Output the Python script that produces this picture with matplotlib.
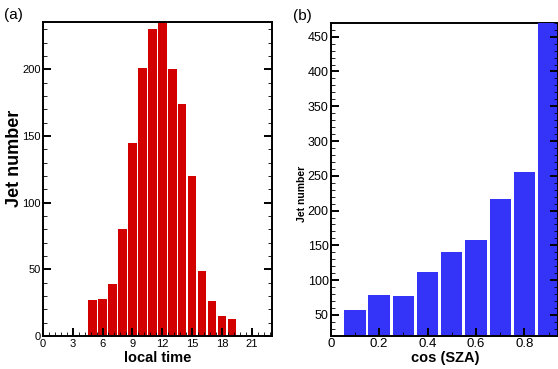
import matplotlib
matplotlib.use("Agg")
import matplotlib.pyplot as plt
from matplotlib.ticker import MultipleLocator

plt.rcParams["font.family"] = ["Liberation Sans", "DejaVu Sans"]

# panel (a): jets per local time hour
local_hours = [5, 6, 7, 8, 9, 10, 11, 12, 13, 14, 15, 16, 17, 18, 19]
jets_by_hour = [27, 28, 39, 80, 145, 201, 230, 237, 200, 174, 120, 49, 26, 15, 13]

# panel (b): jets per cos(SZA) bin
cos_sza = [0.1, 0.2, 0.3, 0.4, 0.5, 0.6, 0.7, 0.8, 0.9]
jets_by_sza = [57, 79, 77, 111, 140, 158, 217, 255, 480]

RED = "#D30000"
BLUE = "#3434F8"

fig = plt.figure(figsize=(5.58, 3.69), dpi=100)
ax_a = fig.add_axes([0.0765, 0.0894, 0.411, 0.851])
ax_b = fig.add_axes([0.5927, 0.0902, 0.4073, 0.848])


def style_axes(ax, label_size_x, label_size_y):
    for sp in ax.spines.values():
        sp.set_linewidth(1.4)
    ax.tick_params(which="both", direction="in", top=False, right=True)
    ax.tick_params(which="major", length=6, width=1.4)
    ax.tick_params(which="minor", length=3, width=0.6)
    ax.tick_params(axis="x", labelsize=label_size_x, pad=2)
    ax.tick_params(axis="y", labelsize=label_size_y, pad=1.5)


# (a)
ax_a.bar(local_hours, jets_by_hour, width=0.84, color=RED)
ax_a.set_xlim(0, 23)
ax_a.set_ylim(0, 235.5)
ax_a.xaxis.set_major_locator(MultipleLocator(3))
ax_a.xaxis.set_minor_locator(MultipleLocator(0.6))
ax_a.yaxis.set_major_locator(MultipleLocator(50))
ax_a.yaxis.set_minor_locator(MultipleLocator(10))
style_axes(ax_a, 8, 8)
ax_a.set_xlabel("local time", fontsize=10.5, fontweight="bold")
ax_a.xaxis.set_label_coords(0.503, -0.070)
ax_a.xaxis.label.set_va("center")
ax_a.set_ylabel("Jet number", fontsize=13, fontweight="bold")
ax_a.yaxis.set_label_coords(-0.123, 0.567)
ax_a.yaxis.label.set_va("center")

# (b)
ax_b.bar(cos_sza, jets_by_sza, width=0.088, color=BLUE)
ax_b.set_xlim(0, 0.939)
ax_b.set_ylim(20, 470)
ax_b.xaxis.set_major_locator(MultipleLocator(0.2))
ax_b.xaxis.set_minor_locator(MultipleLocator(0.1))
ax_b.yaxis.set_major_locator(MultipleLocator(50))
ax_b.yaxis.set_minor_locator(MultipleLocator(10))
ax_b.set_xticks([0, 0.2, 0.4, 0.6, 0.8])
ax_b.set_xticklabels(["0", "0.2", "0.4", "0.6", "0.8"])
style_axes(ax_b, 9.5, 9)
ax_b.spines["top"].set_zorder(0.5)
ax_b.set_xlabel("cos (SZA)", fontsize=10.5, fontweight="bold")
ax_b.xaxis.set_label_coords(0.503, -0.071)
ax_b.xaxis.label.set_va("center")
ax_b.set_ylabel("Jet number", fontsize=7.5, fontweight="bold")
ax_b.yaxis.set_label_coords(-0.125, 0.453)
ax_b.yaxis.label.set_va("center")

fig.text(13 / 558, 1 - 15 / 369, "(a)", fontsize=11, ha="center", va="center")
fig.text(302 / 558, 1 - 16 / 369, "(b)", fontsize=11, ha="center", va="center")

fig.savefig("out.png", dpi=100)
